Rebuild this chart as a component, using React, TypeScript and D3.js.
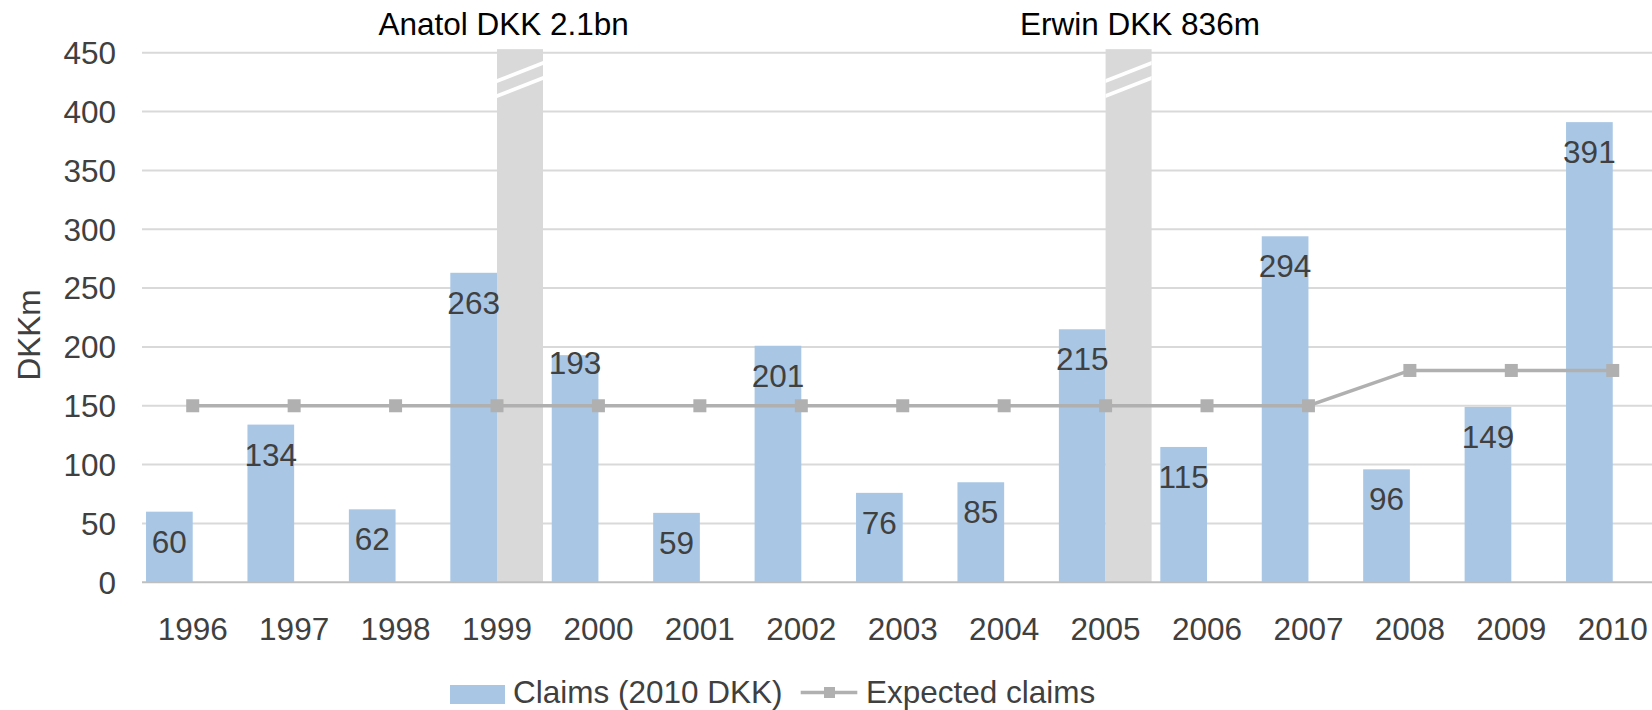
import React from "react";
import * as d3 from "d3";

const years = ["1996","1997","1998","1999","2000","2001","2002","2003","2004","2005","2006","2007","2008","2009","2010"];
const claims = [60,134,62,263,193,59,201,76,85,215,115,294,96,149,391];
const expected = [150,150,150,150,150,150,150,150,150,150,150,150,180,180,180];
const eventYears = ["1999","2005"];
const eventValues = [2100, 836];
const eventLabels = ["Anatol DKK 2.1bn","Erwin DKK 836m"];
const yTicks = [0,50,100,150,200,250,300,350,400,450];

const W = 1652, H = 710;
const FONT = "'Liberation Sans', Arial, Helvetica, sans-serif";
const FS = 31.5;

export default function App() {
  const x = d3.scaleBand<string>().domain(years).range([142, 142 + 15 * 101.43]).paddingInner(0).paddingOuter(0);
  const y = d3.scaleLinear().domain([0, 450]).range([582.3, 52.7]);
  const bw = 46.7;
  const cx = (yr: string) => (x(yr) as number) + x.bandwidth() / 2;
  const line = d3.line<number>().x((_, i) => cx(years[i])).y((v) => y(v));
  const titleOffsets: Record<string, number> = { "1999": 6.6, "2005": 34.4 };
  const labelShift: Record<string, number> = { "2000": -22 };

  return (
    <svg width={W} height={H} style={{ position: "absolute", left: 0, top: 0, background: "#fff" }} fontFamily={FONT}>
      {yTicks.filter((t) => t > 0).map((t) => (
        <line key={t} x1={142} x2={1670} y1={y(t)} y2={y(t)} stroke="#D9D9D9" strokeWidth={2} />
      ))}
      {yTicks.map((t) => (
        <text key={t} x={116} y={y(t) + 11.3} textAnchor="end" fontSize={FS} fill="#404040">{t}</text>
      ))}
      <text transform={`translate(40,335) rotate(-90)`} textAnchor="middle" fontSize={FS} fill="#404040">DKKm</text>
      {years.map((yr, i) => (
        <rect key={yr} x={cx(yr) - bw} width={bw} y={y(claims[i])} height={y(0) - y(claims[i])} fill="#A9C7E5" />
      ))}
      {eventYears.map((yr, j) => {
        const x0 = cx(yr);
        const top = Math.min(y(Math.min(eventValues[j], 453)), y(0));
        const w = 46;
        const stripe = (yl: number, yr2: number) =>
          `M${x0},${yl} L${x0 + w},${yr2} L${x0 + w},${yr2 + 4} L${x0},${yl + 4} Z`;
        return (
          <g key={yr}>
            <rect x={x0} width={w} y={top} height={y(0) - top} fill="#D9D9D9" />
            <path d={stripe(79, 61)} fill="#fff" />
            <path d={stripe(94, 76)} fill="#fff" />
            <text x={x0 + titleOffsets[yr]} y={35} textAnchor="middle" fontSize={FS} fill="#000">{eventLabels[j]}</text>
          </g>
        );
      })}
      <line x1={142} x2={1670} y1={y(0)} y2={y(0)} stroke="#BFBFBF" strokeWidth={2} />
      {years.map((yr) => (
        <text key={yr} x={cx(yr)} y={640} textAnchor="middle" fontSize={FS} fill="#404040">{yr}</text>
      ))}
      <path d={line(expected) || ""} fill="none" stroke="#B0B0B0" strokeWidth={3.5} />
      {expected.map((v, i) => (
        <rect key={i} x={cx(years[i]) - 6.5} y={y(v) - 6.5} width={13} height={13} fill="#B0B0B0" />
      ))}
      {years.map((yr, i) => (
        <text key={yr} x={cx(yr) - bw / 2} y={y(claims[i]) + 41 + (labelShift[yr] || 0)} textAnchor="middle" fontSize={FS} fill="#404040">{claims[i]}</text>
      ))}
      <rect x={450} y={685} width={55} height={19} fill="#A9C7E5" />
      <text x={513} y={703} fontSize={FS} fill="#404040">Claims (2010 DKK)</text>
      <line x1={800.7} x2={857.3} y1={692.5} y2={692.5} stroke="#B0B0B0" strokeWidth={3.5} />
      <rect x={824} y={687} width={11} height={11} fill="#B0B0B0" />
      <text x={866} y={703} fontSize={FS} fill="#404040">Expected claims</text>
    </svg>
  );
}
